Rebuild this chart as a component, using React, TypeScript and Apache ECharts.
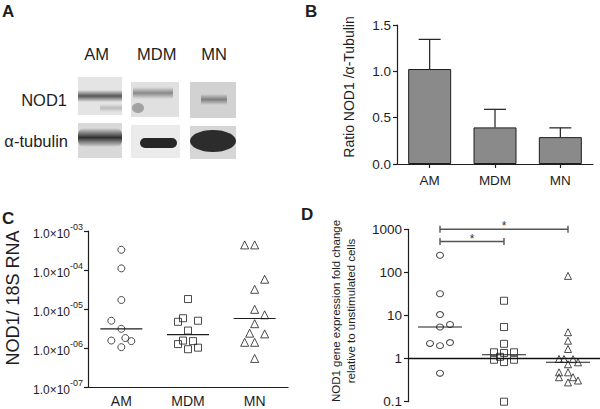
import React, { useEffect, useRef } from 'react';
import * as echarts from 'echarts';

const FONT = '"Liberation Sans", Arial, Helvetica, sans-serif';
const INK = '#1e1e1e';

const categories = ['AM', 'MDM', 'MN'];

// Panel B: ratio NOD1 / alpha-tubulin (mean + SEM)
const ratioMean = [1.025, 0.395, 0.29];
const ratioSem = [0.32, 0.195, 0.1];

// Panel C: NOD1 / 18S RNA
const cAM = [3.3e-4, 1.1e-4, 1.7e-5, 5.0e-6, 3.1e-6, 1.55e-6, 1.8e-6, 1.5e-6, 1.05e-6];
const cAMJitter = [0, 0, 0, -10, 0, -10, 4, 10, 0];
const cMDM = [1.8e-5, 5.8e-6, 4.7e-6, 5.0e-6, 2.8e-6, 1.55e-6, 1.5e-6, 1.26e-6, 9.3e-7, 1.02e-6];
const cMDMJitter = [0, -5, -10, 10, 0, -5, 5, -10, 0, 10];
const cMN = [4.4e-4, 4.4e-4, 5.8e-5, 3.2e-5, 9.8e-6, 7.1e-6, 4.2e-6, 2.4e-6, 2.3e-6, 1.4e-6, 1.4e-6, 5.4e-7];
const cMNJitter = [-10, 0, 10, 0, 0, 10, 0, -5, 10, -10, 0, 0];
const cMedian = [3.1e-6, 2.2e-6, 5.7e-6];

// Panel D: fold change relative to unstimulated cells
const dAM = [250, 32, 10.5, 5.4, 6.2, 2.25, 2.0, 2.35, 0.46];
const dAMJitter = [0, 0, 0, 0, 10, -10, 0, 10, 0];
const dMDM = [22, 5.4, 2.2, 1.4, 1.35, 1.4, 1.1, 0.94, 0.83, 0.94, 0.1];
const dMDMJitter = [0, 0, 0, -10, 0, 10, -4, -10, 0, 10, 0];
const dMN = [83, 4.1, 2.6, 1.67, 0.98, 0.98, 0.97, 0.82, 0.74, 0.48, 0.48, 0.37, 0.37, 0.28, 0.31];
const dMNJitter = [0, 0, 0, 0, -9, -4, 5, 10, 0, -9, 0, -9, 5, 0, 10];
const dMedian = [5.4, 1.23, 0.82];

// Significance brackets in D
const sigFrom = [0, 0];
const sigTo = [2, 1];
const sigLevel = [1000, 520];
const sigLabel = ['*', '*'];

const pts = (vals: number[], jit: number[], cat: number) =>
  vals.map((v, i) => ({ value: [cat, v], symbolOffset: [jit[i], 0] }));

const hollow = (size: any, symbol: string) => ({
  symbol,
  symbolSize: size,
  itemStyle: { color: 'rgba(255,255,255,0)', borderColor: INK, borderWidth: 1 },
});

const medianRender = (half: number) => (params: any, api: any) => {
  const p = api.coord([api.value(0), api.value(1)]);
  return {
    type: 'line',
    shape: { x1: p[0] - half, y1: p[1], x2: p[0] + half, y2: p[1] },
    style: { stroke: INK, lineWidth: 1.1 },
  };
};

const vGrad = (c: string, a: number) =>
  new echarts.graphic.LinearGradient(0, 0, 0, 1, [
    { offset: 0, color: `rgba(${c},0)` },
    { offset: 0.5, color: `rgba(${c},${a})` },
    { offset: 1, color: `rgba(${c},0)` },
  ]);

const txt = (text: string, x: number, y: number, size: number, align: string, extra: any = {}) => ({
  type: 'text',
  x,
  y,
  silent: true,
  ...extra,
  style: {
    text,
    fill: INK,
    fontSize: size,
    fontFamily: FONT,
    fontWeight: extra.bold ? 'bold' : 'normal',
    textAlign: align,
    align,
    textVerticalAlign: 'middle',
    verticalAlign: 'middle',
    lineHeight: extra.lineHeight,
  },
});

export default function App() {
  const ref = useRef<HTMLDivElement>(null);
  useEffect(() => {
    if (!ref.current) return;
    const chart = echarts.init(ref.current, undefined, { renderer: 'svg' });
    const axisLine = { show: true, lineStyle: { color: INK, width: 1.2 } };
    const axisTick = { show: true, length: 4, lineStyle: { color: INK, width: 1.2 } };

    const graphic: any[] = [
      txt('A', 2, 11, 17, 'left', { bold: true }),
      txt('B', 305, 11, 17, 'left', { bold: true }),
      txt('C', 2, 218, 17, 'left', { bold: true }),
      txt('D', 301, 214, 17, 'left', { bold: true }),
      // blot labels
      txt('AM', 96.5, 54, 16.5, 'center'),
      txt('MDM', 156.7, 54, 16.5, 'center'),
      txt('MN', 214, 54, 16.5, 'center'),
      txt('NOD1', 67, 100, 16.5, 'right'),
      txt('\u03b1-tubulin', 68, 141, 16.5, 'right'),
      // axis titles
      txt('Ratio NOD1 /\u03b1-Tubulin', 349, 87, 14, 'center', { rotation: Math.PI / 2 }),
      txt('NOD1/ 18S RNA', 13, 298, 18, 'center', { rotation: Math.PI / 2 }),
      txt('NOD1 gene expression fold change\nrelative to unstimulated cells', 343.5, 311, 11.5, 'center', {
        rotation: Math.PI / 2,
        lineHeight: 15,
      }),
      // Blot: NOD1 row
      { type: 'rect', silent: true, shape: { x: 78, y: 77, width: 44, height: 38 }, style: { fill: '#e4e4e4' } },
      { type: 'rect', silent: true, shape: { x: 78, y: 90, width: 44, height: 12 }, style: { fill: vGrad('60,60,60', 0.85) } },
      { type: 'rect', silent: true, shape: { x: 100, y: 104, width: 22, height: 8 }, style: { fill: vGrad('110,110,110', 0.35) } },
      { type: 'rect', silent: true, shape: { x: 131, y: 82, width: 48, height: 35 }, style: { fill: '#e0e0e0' } },
      { type: 'rect', silent: true, shape: { x: 133, y: 87, width: 40, height: 12 }, style: { fill: vGrad('90,90,90', 0.65) } },
      { type: 'ellipse', silent: true, shape: { cx: 138, cy: 108, rx: 6, ry: 5 }, style: { fill: 'rgba(100,100,100,0.5)' } },
      { type: 'rect', silent: true, shape: { x: 190, y: 82, width: 46, height: 36 }, style: { fill: '#d2d2d2' } },
      { type: 'rect', silent: true, shape: { x: 201, y: 94, width: 26, height: 11 }, style: { fill: vGrad('100,100,100', 0.75) } },
      // Blot: tubulin row
      { type: 'rect', silent: true, shape: { x: 78, y: 123, width: 44, height: 35 }, style: { fill: '#d9d9d9' } },
      { type: 'rect', silent: true, shape: { x: 78, y: 128, width: 44, height: 19, r: 6 }, style: { fill: vGrad('40,40,40', 0.95) } },
      { type: 'rect', silent: true, shape: { x: 131, y: 125, width: 49, height: 33 }, style: { fill: '#ebebeb' } },
      { type: 'rect', silent: true, shape: { x: 140, y: 138, width: 37, height: 10, r: 5 }, style: { fill: '#262626' } },
      { type: 'rect', silent: true, shape: { x: 190, y: 126, width: 46, height: 33 }, style: { fill: '#d6d6d6' } },
      { type: 'ellipse', silent: true, shape: { cx: 213, cy: 141, rx: 23, ry: 11 }, style: { fill: '#2c2c2c' } },
    ];

    const cLabel = (v: number) => {
      const e = Math.round(Math.log10(v));
      const s = (e < 0 ? '-' : '+') + String(Math.abs(e)).padStart(2, '0');
      return `{m|1.0\u00d710}{s|${s}}`;
    };

    const option: any = {
      animation: false,
      textStyle: { fontFamily: FONT, color: INK },
      graphic,
      grid: [
        { left: 397, top: 25, width: 196, height: 139 },
        { left: 88, top: 231, width: 200, height: 156 },
        { left: 408, top: 229.3, width: 192, height: 172.4 },
      ],
      xAxis: [
        {
          gridIndex: 0, type: 'category', data: categories, axisLine,
          axisTick: { ...axisTick, alignWithLabel: true },
          axisLabel: { fontSize: 13.5, color: INK, margin: 9 },
        },
        {
          gridIndex: 1, type: 'category', data: categories, axisLine,
          axisTick: { show: false },
          axisLabel: { fontSize: 14, color: INK, margin: 7 },
        },
        { gridIndex: 2, type: 'category', data: categories, show: false },
      ],
      yAxis: [
        {
          gridIndex: 0, type: 'value', min: 0, max: 1.5, interval: 0.5,
          splitLine: { show: false }, axisLine, axisTick,
          axisLabel: { fontSize: 13.5, color: INK, margin: 6, formatter: (v: number) => v.toFixed(1) },
        },
        {
          gridIndex: 1, type: 'log', logBase: 10, min: 1e-7, max: 1e-3,
          splitLine: { show: false }, minorTick: { show: false }, axisLine, axisTick,
          axisLabel: {
            margin: 5, formatter: cLabel,
            rich: {
              m: { fontSize: 12, lineHeight: 17, verticalAlign: 'bottom', color: INK, fontFamily: FONT },
              s: { fontSize: 9, lineHeight: 10, verticalAlign: 'top', color: INK, fontFamily: FONT },
            },
          },
        },
        {
          gridIndex: 2, type: 'log', logBase: 10, min: 0.1, max: 1000,
          splitLine: { show: false }, minorTick: { show: false }, axisLine, axisTick,
          axisLabel: {
            fontSize: 13.5, color: INK, margin: 6,
            formatter: (v: number) => (v < 0.5 ? '0.1' : String(Math.round(v))),
          },
        },
      ],
      series: [
        {
          type: 'bar', xAxisIndex: 0, yAxisIndex: 0, data: ratioMean, barWidth: 43,
          itemStyle: { color: '#8a8a8a', borderColor: INK, borderWidth: 1 },
        },
        {
          type: 'custom', xAxisIndex: 0, yAxisIndex: 0, z: 5,
          encode: { x: 0, y: 1 },
          data: ratioMean.map((m, i) => [i, m, ratioSem[i]]),
          renderItem: (params: any, api: any) => {
            const x = api.value(0), m = api.value(1), e = api.value(2);
            const p0 = api.coord([x, m]);
            const p1 = api.coord([x, m + e]);
            const hw = 11;
            return {
              type: 'group',
              children: [
                { type: 'line', shape: { x1: p0[0], y1: p0[1], x2: p1[0], y2: p1[1] }, style: { stroke: INK, lineWidth: 1.2 } },
                { type: 'line', shape: { x1: p1[0] - hw, y1: p1[1], x2: p1[0] + hw, y2: p1[1] }, style: { stroke: INK, lineWidth: 1.2 } },
              ],
            };
          },
        },
        // Panel C
        { type: 'scatter', xAxisIndex: 1, yAxisIndex: 1, ...hollow(7, 'circle'), data: pts(cAM, cAMJitter, 0) },
        { type: 'scatter', xAxisIndex: 1, yAxisIndex: 1, ...hollow(7, 'rect'), data: pts(cMDM, cMDMJitter, 1) },
        { type: 'scatter', xAxisIndex: 1, yAxisIndex: 1, ...hollow(8, 'triangle'), data: pts(cMN, cMNJitter, 2) },
        {
          type: 'custom', xAxisIndex: 1, yAxisIndex: 1, z: 6,
          data: cMedian.map((m, i) => [i, m]),
          renderItem: medianRender(21),
        },
        // Panel D
        {
          type: 'scatter', xAxisIndex: 2, yAxisIndex: 2, ...hollow([7, 6], 'circle'), data: pts(dAM, dAMJitter, 0),
          markLine: {
            silent: true, symbol: 'none', label: { show: false },
            lineStyle: { color: '#111', width: 1.3, type: 'solid' },
            data: [{ yAxis: 1 }],
          },
        },
        { type: 'scatter', xAxisIndex: 2, yAxisIndex: 2, ...hollow(7, 'rect'), data: pts(dMDM, dMDMJitter, 1) },
        { type: 'scatter', xAxisIndex: 2, yAxisIndex: 2, ...hollow(7, 'triangle'), data: pts(dMN, dMNJitter, 2) },
        {
          type: 'custom', xAxisIndex: 2, yAxisIndex: 2, z: 6,
          data: dMedian.map((m, i) => [i, m]),
          renderItem: medianRender(22),
        },
        {
          type: 'custom', xAxisIndex: 2, yAxisIndex: 2, z: 6, clip: false,
          encode: { x: 0, y: 2 },
          data: sigFrom.map((f, i) => [f, sigTo[i], sigLevel[i]]),
          renderItem: (params: any, api: any) => {
            const a = api.coord([api.value(0), api.value(2)]);
            const b = api.coord([api.value(1), api.value(2)]);
            const y = a[1];
            const st = { stroke: '#555', lineWidth: 1.4 };
            return {
              type: 'group',
              children: [
                { type: 'line', shape: { x1: a[0], y1: y, x2: b[0], y2: y }, style: st },
                { type: 'line', shape: { x1: a[0], y1: y - 3.5, x2: a[0], y2: y + 3.5 }, style: st },
                { type: 'line', shape: { x1: b[0], y1: y - 3.5, x2: b[0], y2: y + 3.5 }, style: st },
                {
                  type: 'text',
                  style: {
                    text: sigLabel[params.dataIndex], x: (a[0] + b[0]) / 2, y: y - 3,
                    fill: '#333', fontSize: 12, fontFamily: FONT,
                    align: 'center', verticalAlign: 'middle',
                  },
                },
              ],
            };
          },
        },
      ],
    };
    chart.setOption(option);
    return () => chart.dispose();
  }, []);
  return <div ref={ref} style={{ position: 'fixed', left: 0, top: 0, width: 600, height: 409, background: '#fff' }} />;
}
